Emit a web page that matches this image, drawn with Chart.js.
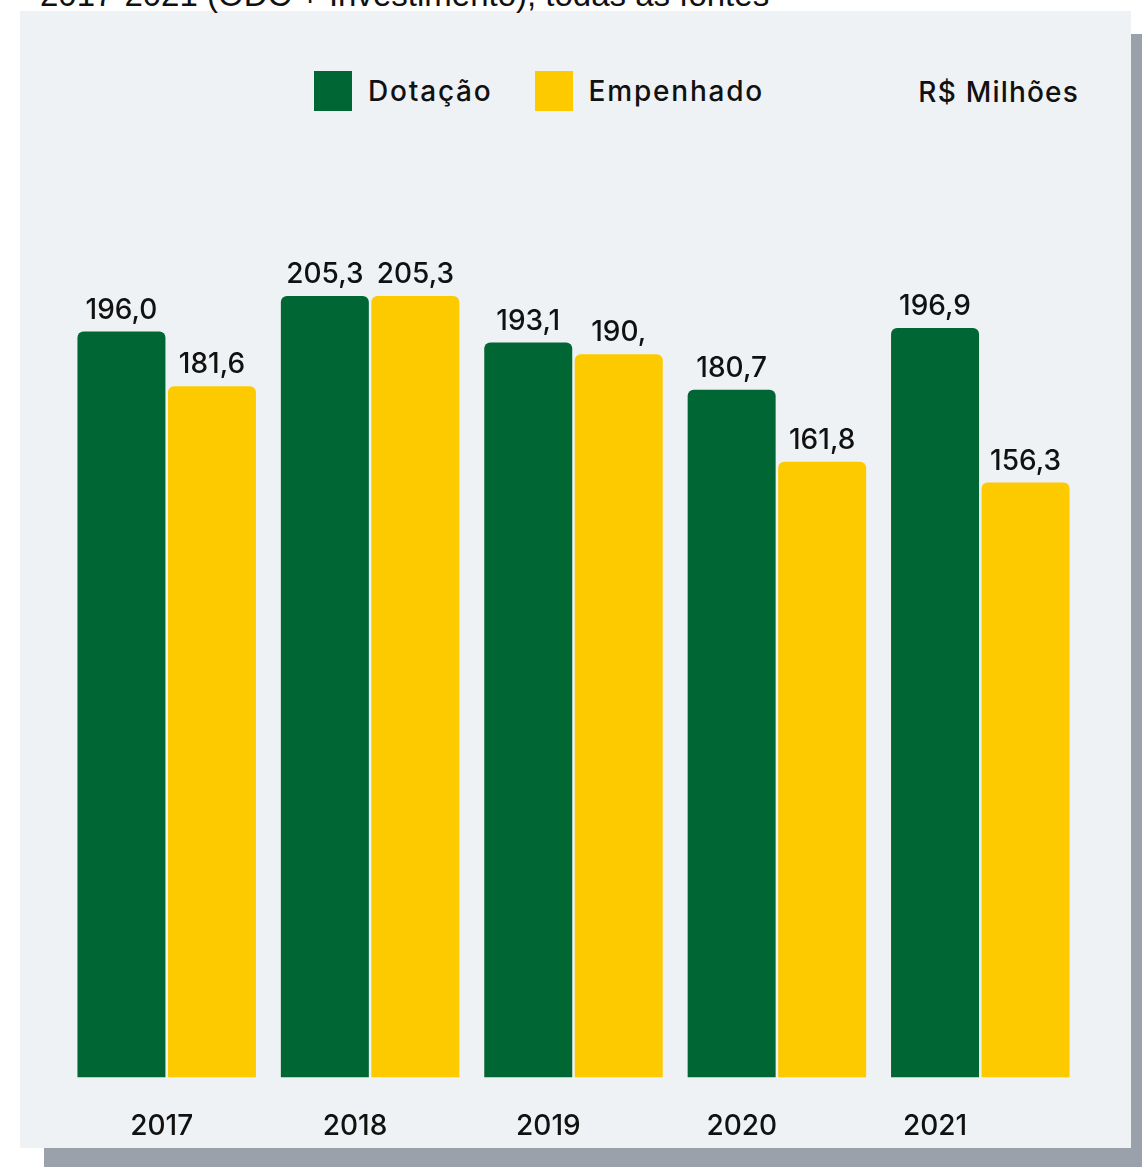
<!DOCTYPE html>
<html>
<head>
<meta charset="utf-8">
<script src="https://cdn.jsdelivr.net/npm/chart.js@4/dist/chart.umd.min.js"></script>
<style>
  body { margin: 0; width: 1142px; height: 1167px; background: #fff; position: relative; overflow: hidden; font-family: Inter, "Noto Sans", sans-serif; }
  .shadow { position: absolute; left: 44px; top: 34px; width: 1098px; height: 1133px; background: #9aa1ab; }
  .panel { position: absolute; left: 20px; top: 11px; width: 1111px; height: 1137px; background: #eef2f5; }
  .title { position: absolute; left: 40px; top: -24px; font: 33px "Liberation Sans", Arial, sans-serif; color: #111; white-space: nowrap; }
  .legend { position: absolute; top: 71px; left: 314px; height: 40px; display: flex; align-items: center; font-size: 28px; font-weight: 500; color: #111; letter-spacing: 1.8px; }
  .legend span.box { width: 38px; height: 40px; display: inline-block; margin-right: 16px; }
  .legend span.txt { margin-right: 42px; }
  .unit { position: absolute; top: 72px; right: 63px; height: 40px; line-height: 40px; font-size: 28px; font-weight: 500; color: #111; letter-spacing: 1.2px; }
  canvas { position: absolute; left: 0; top: 0; }
</style>
</head>
<body>
<div class="shadow"></div>
<div class="panel"></div>
<div class="title">2017-2021 (ODC + Investimento), todas as fontes</div>
<div class="legend" id="legend"></div>
<div class="unit">R$ Milhões</div>
<canvas id="chart" width="1142" height="1199"></canvas>
<script>
'use strict'

const years = ['2017', '2018', '2019', '2020', '2021'];
const seriesNames = ['Dotação', 'Empenhado'];
const dotacao = [196.0, 205.3, 193.1, 180.7, 196.9];
const empenhado = [181.6, 205.3, 190.0, 161.8, 156.3];
// texto dos rótulos como aparece no gráfico
const dotacaoLabels = ['196,0', '205,3', '193,1', '180,7', '196,9'];
const empenhadoLabels = ['181,6', '205,3', '190,', '161,8', '156,3'];
const colors = ['#006633', '#fdca00'];

/* legenda html */
const legend = document.getElementById('legend');
seriesNames.forEach(function(name, i){
  legend.innerHTML += '<span class="box" style="background:' + colors[i] + '"></span><span class="txt">' + name + '</span>';
});

/* rótulos acima das barras */
const valueLabels = {
  id: 'valueLabels',
  afterDatasetsDraw(chart) {
    const ctx = chart.ctx;
    ctx.save();
    ctx.font = '500 28px Inter, "Noto Sans", sans-serif';
    ctx.fillStyle = '#111';
    ctx.textAlign = 'center';
    ctx.textBaseline = 'alphabetic';
    chart.data.datasets.forEach(function(ds, i){
      chart.getDatasetMeta(i).data.forEach(function(bar, j){
        ctx.fillText(ds.labelsText[j], bar.x, bar.y - 13);
      });
    });
    ctx.restore();
  }
};

const ctx = document.getElementById('chart').getContext('2d');
const chart = new Chart(ctx, {
  type: 'bar',
  data: {
    labels: years,
    datasets: [{
      label: seriesNames[0],
      data: dotacao,
      labelsText: dotacaoLabels,
      backgroundColor: colors[0],
      borderRadius: 6
    }, {
      label: seriesNames[1],
      data: empenhado,
      labelsText: empenhadoLabels,
      backgroundColor: colors[1],
      borderRadius: 6
    }]
  },
  options: {
    responsive: false,
    animation: false,
    events: [],
    categoryPercentage: 0.89,
    barPercentage: 0.972,
    layout: { padding: { left: 65, right: 60, top: 126, bottom: 24 } },
    plugins: { legend: { display: false }, tooltip: { enabled: false } },
    scales: {
      x: { display: false },
      xl: {
        type: 'linear',
        position: 'bottom',
        offset: false,
        min: -0.5,
        max: 4.76,
        grid: { display: false, drawTicks: false, tickLength: 0, offset: false },
        border: { display: false },
        afterBuildTicks: function(axis){
          axis.ticks = years.map(function(y, i){ return { value: i }; });
        },
        ticks: {
          autoSkip: false,
          maxRotation: 0,
          padding: 32,
          color: '#111',
          font: { family: 'Inter, "Noto Sans", sans-serif', size: 28, weight: '500' },
          callback: function(v){ return years[v]; }
        }
      },
      y: { display: false, min: 0, max: 250 }
    }
  },
  plugins: [valueLabels]
});
</script>
</body>
</html>
